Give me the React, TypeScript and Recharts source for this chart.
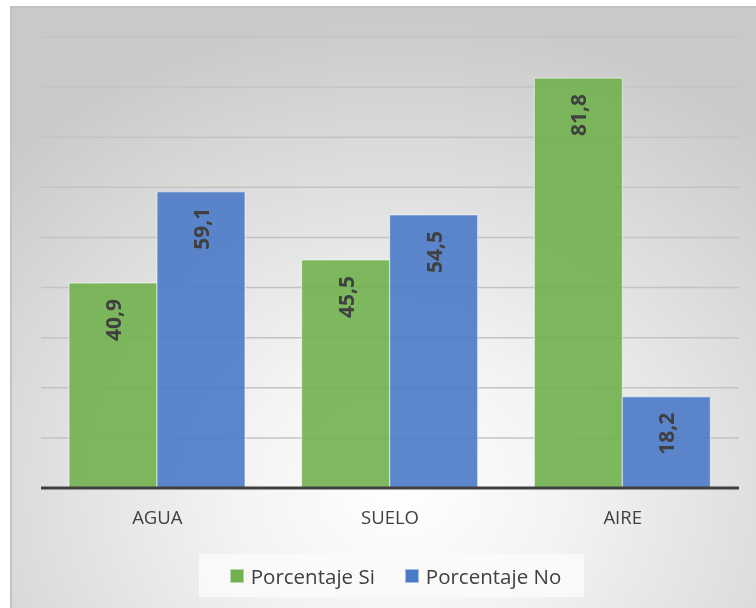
import { BarChart, Bar, XAxis, YAxis, CartesianGrid, LabelList } from "recharts";

const categories = ["AGUA", "SUELO", "AIRE"];
const porcentajeSi = [40.9, 45.5, 81.8];
const porcentajeNo = [59.1, 54.5, 18.2];
const yTicks = [0, 10, 20, 30, 40, 50, 60, 70, 80, 90];

const data = categories.map((name, i) => ({
  name,
  si: porcentajeSi[i],
  no: porcentajeNo[i],
}));

const GREEN = "#71b14e";
const BLUE = "#4b7ac8";
const FONT = "'Open Sans', 'Liberation Sans', sans-serif";

const fmt = (v: number) => v.toFixed(1).replace(".", ",");

function RotatedLabel(props: any) {
  const { x, y, width, value } = props;
  const cx = x + width / 2;
  const ty = y + 16;
  return (
    <text
      x={cx}
      y={ty}
      transform={`rotate(-90 ${cx} ${ty})`}
      textAnchor="end"
      dominantBaseline="central"
      fill="#404040"
      fontSize={21}
      fontWeight={700}
      fontFamily={FONT}
    >
      {fmt(value)}
    </text>
  );
}

function LegendBox() {
  const item = (color: string, label: string) => (
    <div style={{ display: "flex", alignItems: "center" }}>
      <span style={{ width: 12, height: 12, background: color, display: "inline-block", marginRight: 7, border: "1px solid rgba(255,255,255,0.5)" }} />
      <span>{label}</span>
    </div>
  );
  return (
    <div
      style={{
        position: "absolute",
        left: 187,
        top: 546,
        width: 385,
        height: 43,
        background: "rgba(250,250,250,0.85)",
        display: "flex",
        alignItems: "center",
        justifyContent: "center",
        gap: 30,
        paddingLeft: 8,
        boxSizing: "border-box",
        fontFamily: FONT,
        fontSize: 20.5,
        color: "#404040",
      }}
    >
      {item(GREEN, "Porcentaje Si")}
      {item(BLUE, "Porcentaje No")}
    </div>
  );
}

export default function App() {
  return (
    <div
      style={{
        position: "fixed",
        left: 10,
        top: 6,
        width: 746,
        height: 602,
        borderLeft: "2px solid #c2c2c2",
        borderTop: "2px solid #c2c2c2",
        boxSizing: "border-box",
        background:
          "radial-gradient(ellipse 75% 80% at 52% 80%, #ffffff 0%, #f3f3f3 30%, #dedede 65%, #c9c9c9 100%)",
        overflow: "hidden",
      }}
    >
      <div style={{ position: "absolute", left: -2, top: -2 }}>
        <BarChart
          width={746}
          height={602}
          data={data}
          margin={{ top: 31, right: 17, left: 31, bottom: 80 }}
          barCategoryGap={28}
          barGap={0}
        >
          <CartesianGrid vertical={false} stroke="#c3c3c3" strokeWidth={1.5} />
          <YAxis hide domain={[0, 90]} ticks={yTicks} />
          <XAxis
            dataKey="name"
            axisLine={{ stroke: "#404040", strokeWidth: 3 }}
            tickLine={false}
            height={40}
            tick={{ fill: "#404040", fontSize: 18.5, fontFamily: FONT }}
            tickMargin={17}
          />
          <Bar dataKey="si" fill={GREEN} fillOpacity={0.9} stroke="#ffffff" strokeOpacity={0.6} isAnimationActive={false}>
            <LabelList dataKey="si" content={RotatedLabel} />
          </Bar>
          <Bar dataKey="no" fill={BLUE} fillOpacity={0.9} stroke="#ffffff" strokeOpacity={0.6} isAnimationActive={false}>
            <LabelList dataKey="no" content={RotatedLabel} />
          </Bar>
        </BarChart>
      </div>
      <LegendBox />
    </div>
  );
}
